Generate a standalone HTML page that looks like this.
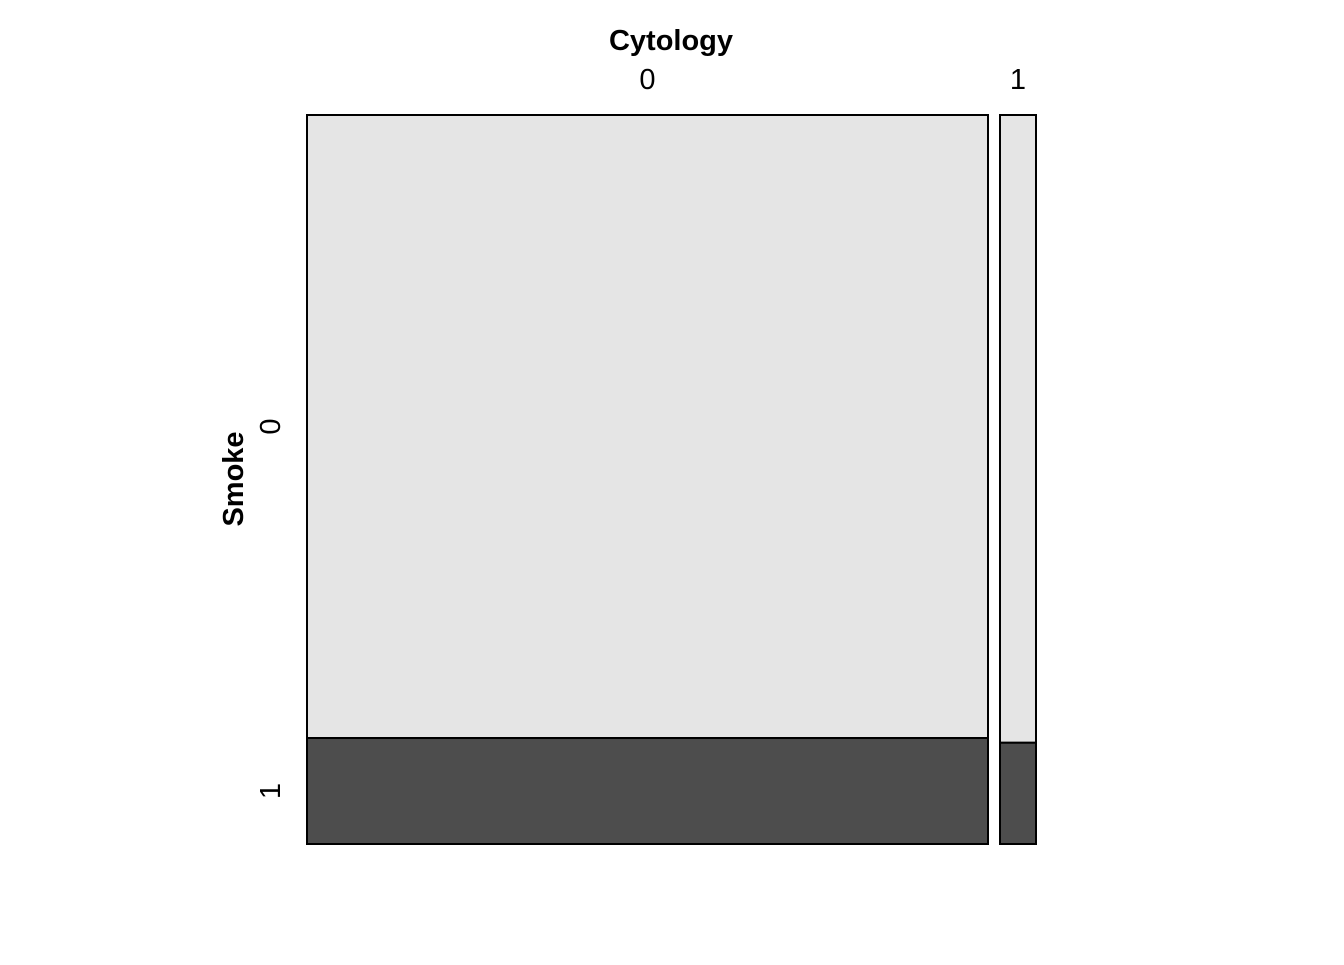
<!DOCTYPE html>
<html><head><meta charset="utf-8"><style>
body{margin:0;background:#fff}
svg text{font-family:"Liberation Sans",sans-serif;fill:#000}
</style></head><body>
<svg id="chart" width="1344" height="960" xmlns="http://www.w3.org/2000/svg">
<text x="671" y="50" font-size="29" font-weight="bold" text-anchor="middle">Cytology</text>
<text transform="translate(243,479) rotate(-90)" font-size="29" font-weight="bold" text-anchor="middle">Smoke</text>
<g id="marks"></g>
</svg>
<script>
const cytCategories = ["0", "1"];
const smokeCategories = ["0", "1"];
const countsSmoke0 = [582, 31];
const countsSmoke1 = [99, 5];
const fills = ["#e5e5e5", "#4d4d4d"];

const x0 = 307, x1 = 1036, y0 = 115, y1 = 844, gap = 12;
const g = document.getElementById('marks');
const svg = document.getElementById('chart');
const NS = "http://www.w3.org/2000/svg";
const colTotals = cytCategories.map((c, i) => countsSmoke0[i] + countsSmoke1[i]);
const grand = colTotals.reduce((a, b) => a + b, 0);
const avail = (x1 - x0) - gap * (cytCategories.length - 1);
let cx = x0;
cytCategories.forEach((c, i) => {
  const w = avail * colTotals[i] / grand;
  const h0 = (y1 - y0) * countsSmoke0[i] / colTotals[i];
  const parts = [[y0, h0, 0], [y0 + h0, (y1 - y0) - h0, 1]];
  parts.forEach(([y, h, k]) => {
    const r = document.createElementNS(NS, 'rect');
    r.setAttribute('x', cx); r.setAttribute('y', y);
    r.setAttribute('width', w); r.setAttribute('height', h);
    r.setAttribute('fill', fills[k]); r.setAttribute('stroke', '#000'); r.setAttribute('stroke-width', '2');
    
    
    g.appendChild(r);
  });
  const t = document.createElementNS(NS, 'text');
  t.setAttribute('x', cx + w / 2); t.setAttribute('y', 89);
  t.setAttribute('font-size', '29'); t.setAttribute('text-anchor', 'middle');
  t.textContent = c;
  
  
  svg.appendChild(t);
  cx += w + gap;
});
// y labels based on first column
const h0 = (y1 - y0) * countsSmoke0[0] / colTotals[0];
const ymids = [y0 + h0 / 2, y0 + h0 + (y1 - y0 - h0) / 2];
smokeCategories.forEach((s, k) => {
  const t = document.createElementNS(NS, 'text');
  t.setAttribute('transform', 'translate(280,' + ymids[k] + ') rotate(-90)');
  t.setAttribute('font-size', '29'); t.setAttribute('text-anchor', 'middle');
  t.textContent = s;
  
  
  svg.appendChild(t);
});
</script>
</body></html>
